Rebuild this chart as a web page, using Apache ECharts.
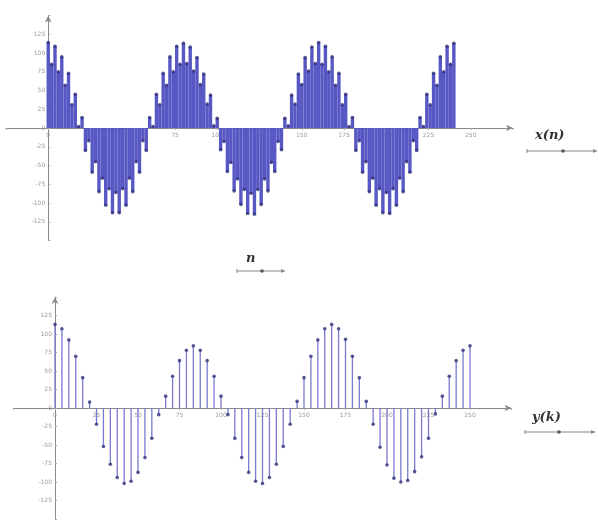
<!DOCTYPE html>
<html>
<head>
<meta charset="utf-8">
<script src="https://cdn.jsdelivr.net/npm/echarts@6/dist/echarts.min.js"></script>
<style>
html,body{margin:0;padding:0;background:#fff;}
#c{width:598px;height:526px;}
</style>
</head>
<body>
<div id="c"></div>
<script>
// ---- data ----
// x(n): sampled every 2 units of n, n = 0 .. 240
const xStepN = 2;
const xValues = [
  114, 85, 109, 75, 95, 57, 73, 31, 45, 2, 14, -30, -17, -59, -45, -85, -67, -103, -81, -113,
  -86, -113, -81, -103, -67, -85, -45, -59, -17, -30, 14, 2, 45, 31, 73, 57, 95, 75, 109, 85,
  113, 86, 108, 76, 94, 58, 72, 32, 44, 3, 13, -29, -18, -58, -46, -84, -68, -102, -82, -114,
  -87, -115, -82, -102, -68, -84, -46, -58, -18, -29, 13, 3, 44, 32, 72, 58, 94, 76, 108, 86,
  114, 85, 109, 75, 95, 57, 73, 31, 45, 2, 14, -30, -17, -59, -45, -85, -67, -103, -81, -113,
  -86, -114, -81, -103, -67, -85, -45, -59, -17, -30, 14, 2, 45, 31, 73, 57, 95, 75, 109, 85,
  113
];
// y(k): k = 0 .. 60, plotted on the same scale (one sample every 250/60 units)
const yStep = 250 / 60;
const yValues = [
  113, 107, 92, 70, 41, 8, -22, -52, -76, -94, -102, -99, -87, -67, -41, -9, 16, 43, 64, 78,
  84, 78, 64, 43, 16, -9, -41, -67, -87, -99, -102, -94, -76, -52, -22, 9, 41, 70, 92, 107,
  113, 107, 93, 70, 41, 9, -22, -53, -77, -95, -100, -98, -86, -66, -41, -8, 16, 43, 64, 78,
  84
];
const xTicks = [-25, 0, 25, 50, 75, 100, 125, 150, 175, 200, 225, 250, 275];
const yTicks = [-150, -125, -100, -75, -50, -25, 0, 25, 50, 75, 100, 125, 150];

const xData = xValues.map((v, i) => [i * xStepN, v]);
const yData = yValues.map((v, i) => [i * yStep, v]);

const axisGray = '#8a8a8a';
const labelGray = '#9a9a9a';

const grids = [
  { left: 6, width: 507, top: 15.5, height: 225 },
  { left: 13.5, width: 498, top: 297, height: 222 }
];
const xMin = xTicks[0], xMax = xTicks[xTicks.length - 1];
const yMin = yTicks[0], yMax = yTicks[yTicks.length - 1];

function xAxisCfg(gi) {
  const g = grids[gi];
  const zeroY = g.top + g.height * (yMax / (yMax - yMin));
  return {
    type: 'value', gridIndex: gi, position: 'bottom',
    offset: -(g.top + g.height - zeroY),
    min: xMin, max: xMax, interval: 25,
    axisLine: { onZero: false, lineStyle: { color: axisGray, width: 1 }, symbol: ['none', 'arrow'], symbolSize: [5, 7] },
    axisTick: { show: true, length: 2, inside: false, lineStyle: { color: '#aaa' } },
    splitLine: { show: false },
    axisLabel: {
      fontSize: 6, color: labelGray, margin: 4, fontFamily: 'DejaVu Sans',
      formatter: v => (v === xMin || v === xMax) ? '' : String(v)
    }
  };
}
function yAxisCfg(gi) {
  const g = grids[gi];
  const zeroX = g.left + g.width * ((0 - xMin) / (xMax - xMin));
  return {
    type: 'value', gridIndex: gi, position: 'left',
    offset: -(zeroX - g.left),
    min: yMin, max: yMax, interval: 25,
    axisLine: { onZero: false, lineStyle: { color: axisGray, width: 1 }, symbol: ['none', 'arrow'], symbolSize: [5, 7] },
    axisTick: { show: true, length: 2, inside: true, lineStyle: { color: '#aaa' } },
    splitLine: { show: false },
    axisLabel: {
      fontSize: 6, color: labelGray, margin: 3, fontFamily: 'DejaVu Sans',
      formatter: v => (v === yMin || v === yMax) ? '' : String(v)
    }
  };
}

const chart = echarts.init(document.getElementById('c'), null, { renderer: 'canvas' });

const mathFont = '"DejaVu Serif", "Liberation Serif", serif';
function label(x, y, txt, lineX1, lineX2, lineY, dotX) {
  return [
    { type: 'text', left: x, top: y, style: { text: txt, font: 'italic bold 13px ' + mathFont, fill: '#333' } },
    { type: 'line', shape: { x1: lineX1, y1: lineY, x2: lineX2, y2: lineY }, style: { stroke: '#888', lineWidth: 1 } },
    { type: 'polygon', shape: { points: [[lineX2, lineY], [lineX2 - 4, lineY - 2], [lineX2 - 4, lineY + 2]] }, style: { fill: '#888' } },
    { type: 'line', shape: { x1: lineX1, y1: lineY - 2, x2: lineX1, y2: lineY + 2 }, style: { stroke: '#888', lineWidth: 1 } },
    { type: 'circle', shape: { cx: dotX, cy: lineY, r: 1.8 }, style: { fill: '#555' } }
  ];
}

chart.setOption({
  animation: false,
  backgroundColor: '#ffffff',
  grid: grids.map(g => Object.assign({ outerBoundsMode: 'none', containLabel: false }, g)),
  xAxis: [xAxisCfg(0), xAxisCfg(1)],
  yAxis: [yAxisCfg(0), yAxisCfg(1)],
  series: [
    {
      type: 'bar', xAxisIndex: 0, yAxisIndex: 0, data: xData,
      barWidth: 3.4, itemStyle: { color: '#5858c4' }, z: 2
    },
    {
      type: 'scatter', xAxisIndex: 0, yAxisIndex: 0, data: xData,
      symbol: 'circle', symbolSize: 3.6, itemStyle: { color: '#2c2c78' }, z: 3
    },
    {
      type: 'bar', xAxisIndex: 1, yAxisIndex: 1, data: yData,
      barWidth: 1.3, itemStyle: { color: '#7a7ad0' }, z: 2
    },
    {
      type: 'scatter', xAxisIndex: 1, yAxisIndex: 1, data: yData,
      symbol: 'circle', symbolSize: 3.6, itemStyle: { color: '#30307a' }, z: 3
    }
  ],
  graphic: [
    ...label(535, 129, 'x(n)', 527, 597, 151, 563),
    ...label(246, 252, 'n', 237, 285, 271, 262),
    ...label(532, 411, 'y(k)', 525, 595, 432, 559)
  ]
});
</script>
</body>
</html>
